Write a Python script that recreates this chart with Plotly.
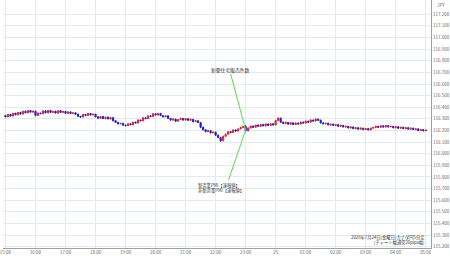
import plotly.graph_objects as go
import pandas as pd

# ---- data (CAD/JPY 5-minute candles, 2026-07-24 15:00 -> 07-25 05:00) ----
start_time = "2026-07-24 15:00"
first_open = 116.330
closes = [
    116.318, 116.338, 116.325, 116.348, 116.335, 116.355, 116.342, 116.366, 116.352, 116.372, 116.358, 116.366,  # 15h
    116.330, 116.350, 116.345, 116.368, 116.352, 116.372, 116.356, 116.365, 116.350, 116.370, 116.356, 116.364,  # 16h
    116.348, 116.360, 116.346, 116.352, 116.340, 116.322, 116.316, 116.338, 116.330, 116.346, 116.334, 116.340,  # 17h
    116.318, 116.306, 116.320, 116.302, 116.315, 116.300, 116.310, 116.285, 116.270, 116.258, 116.262, 116.246,  # 18h
    116.242, 116.258, 116.250, 116.272, 116.265, 116.290, 116.284, 116.310, 116.302, 116.326, 116.320, 116.344,  # 19h
    116.334, 116.346, 116.328, 116.318, 116.326, 116.304, 116.290, 116.298, 116.280, 116.294, 116.304, 116.290,  # 20h
    116.302, 116.288, 116.296, 116.276, 116.284, 116.268, 116.228, 116.206, 116.190, 116.198, 116.180, 116.186,  # 21h
    116.160, 116.140, 116.112, 116.150, 116.168, 116.190, 116.182, 116.205, 116.196, 116.214, 116.226, 116.236,  # 22h
    116.198, 116.222, 116.238, 116.228, 116.246, 116.236, 116.252, 116.240, 116.256, 116.244, 116.258, 116.248,  # 23h
    116.286, 116.306, 116.272, 116.260, 116.270, 116.254, 116.266, 116.252, 116.264, 116.256, 116.272, 116.264,  # 00h
    116.280, 116.272, 116.290, 116.282, 116.298, 116.288, 116.266, 116.258, 116.262, 116.248, 116.254, 116.244,  # 01h
    116.250, 116.236, 116.244, 116.230, 116.236, 116.222, 116.230, 116.216, 116.224, 116.212, 116.220, 116.208,  # 02h
    116.216, 116.206, 116.220, 116.226, 116.236, 116.228, 116.240, 116.230, 116.242, 116.232, 116.236, 116.224,  # 03h
    116.232, 116.220, 116.228, 116.216, 116.224, 116.212, 116.220, 116.208, 116.214, 116.200, 116.208, 116.198,  # 04h
    116.204,
]
# wick lengths above / below the candle body, in 0.001 yen
upper_wick = [
    5, 4, 6, 3, 5, 4, 6, 4, 5, 6, 3, 5,
    4, 6, 3, 5, 6, 4, 5, 3, 6, 4, 5, 4,
    5, 4, 6, 3, 4, 6, 4, 5, 3, 6, 4, 5,
    4, 5, 3, 6, 4, 5, 3, 6, 4, 5, 3, 4,
    5, 4, 6, 3, 5, 6, 4, 5, 3, 6, 5, 6,
    5, 4, 6, 3, 4, 5, 4, 6, 5, 3, 6, 4,
    5, 4, 6, 3, 4, 5, 6, 5, 4, 6, 3, 5,
    6, 4, 5, 7, 5, 4, 6, 3, 5, 4, 6, 4,
    9, 5, 4, 6, 3, 5, 4, 6, 3, 5, 4, 6,
    6, 8, 5, 4, 6, 3, 5, 4, 6, 3, 5, 4,
    5, 4, 6, 3, 5, 4, 6, 3, 4, 5, 3, 6,
    4, 5, 3, 4, 6, 3, 4, 5, 3, 4, 6, 3,
    4, 5, 3, 6, 4, 5, 3, 4, 6, 3, 5, 4,
    3, 5, 4, 3, 6, 4, 5, 3, 4, 6, 3, 5,
    4,
]
lower_wick = [
    5, 4, 6, 4, 3, 5, 4, 6, 3, 5, 4, 3,
    7, 5, 4, 6, 3, 4, 5, 3, 4, 6, 3, 5,
    4, 5, 3, 6, 4, 7, 5, 3, 6, 4, 5, 3,
    5, 4, 6, 3, 5, 4, 6, 7, 5, 6, 3, 5,
    6, 4, 3, 5, 4, 6, 3, 5, 4, 3, 5, 4,
    3, 5, 4, 6, 3, 5, 6, 4, 5, 3, 4, 6,
    4, 5, 3, 6, 4, 3, 7, 6, 5, 3, 6, 5,
    7, 6, 10, 5, 3, 5, 4, 3, 5, 4, 3, 5,
    12, 5, 4, 5, 3, 4, 5, 3, 6, 4, 3, 5,
    4, 5, 6, 4, 5, 3, 4, 6, 3, 5, 4, 3,
    5, 4, 3, 6, 4, 5, 6, 4, 5, 3, 6, 4,
    5, 4, 6, 3, 5, 4, 6, 3, 5, 4, 6, 5,
    3, 5, 4, 3, 6, 4, 5, 3, 4, 6, 3, 5,
    5, 4, 6, 3, 5, 4, 6, 3, 5, 6, 4, 5,
    4,
]

x_tick_times = ["2026-07-24 15:00", "2026-07-24 16:00", "2026-07-24 17:00", "2026-07-24 18:00",
                "2026-07-24 19:00", "2026-07-24 20:00", "2026-07-24 21:00", "2026-07-24 22:00",
                "2026-07-24 23:00", "2026-07-25 00:00", "2026-07-25 01:00", "2026-07-25 02:00",
                "2026-07-25 03:00", "2026-07-25 04:00", "2026-07-25 05:00"]
x_tick_text = ["15:00", "16:00", "17:00", "18:00", "19:00", "20:00", "21:00", "22:00",
               "23:00", "25", "01:00", "02:00", "03:00", "04:00", "05:00"]
y_tick_vals = [117.2, 117.1, 117.0, 116.9, 116.8, 116.7, 116.6, 116.5, 116.4, 116.3,
               116.2, 116.1, 116.0, 115.9, 115.8, 115.7, 115.6, 115.5, 115.4, 115.3, 115.2]

event_time = "2026-07-24 23:00"
event_price = 116.205
upper_label = "新築住宅販売件数"
upper_label_pos = ("2026-07-24 22:30", 116.717)
lower_labels = ["製造業PMI【速報値】", "非製造業PMI【速報値】"]
lower_label_pos = ("2026-07-24 22:06", 115.775)
caption = ["2026年7月24日(金曜日)カナダ円5分足", "(チャート幅通常20pips幅)"]

# ---- build ----
times = pd.date_range(start_time, periods=len(closes), freq="5min")
opens = [first_open] + closes[:-1]
highs = [max(o, c) + u / 1000 for o, c, u in zip(opens, closes, upper_wick)]
lows = [min(o, c) - d / 1000 for o, c, d in zip(opens, closes, lower_wick)]

RED = "#e0202a"
BLUE = "#1c20c4"
GREEN = "#5cdc4c"
GRID = "#e4ebf0"
AXIS = "#a0a0a0"
FONT = "Noto Sans CJK JP"

fig = go.Figure()
fig.add_trace(go.Candlestick(
    x=times, open=opens, high=highs, low=lows, close=closes,
    increasing=dict(line=dict(color=RED, width=0.9), fillcolor=RED),
    decreasing=dict(line=dict(color=BLUE, width=0.9), fillcolor=BLUE),
    whiskerwidth=0, showlegend=False, hoverinfo="skip",
))

x_start = pd.Timestamp("2026-07-24 15:00") - pd.Timedelta(minutes=4.95)
x_end = x_start + pd.Timedelta(hours=432 / 30.3)

fig.update_layout(
    width=450, height=258,
    margin=dict(l=0, r=18, t=0, b=10),
    paper_bgcolor="white", plot_bgcolor="white",
    font=dict(family=FONT, color="#555555"),
    xaxis=dict(
        range=[x_start, x_end], rangeslider=dict(visible=False),
        tickvals=pd.to_datetime(x_tick_times), ticktext=x_tick_text,
        tickfont=dict(size=4.5, color="#666666"), ticklabeloverflow="allow",
        showgrid=True, gridcolor=GRID, gridwidth=1,
        showline=True, linecolor=AXIS, linewidth=1,
        ticks="", zeroline=False,
    ),
    yaxis=dict(
        side="right", range=[115.189, 117.323],
        tickvals=y_tick_vals, ticktext=[f"{v:.3f}" for v in y_tick_vals],
        tickfont=dict(size=4.5, color="#666666"),
        showgrid=True, gridcolor=GRID, gridwidth=1,
        showline=True, linecolor=AXIS, linewidth=1,
        ticks="", zeroline=False,
    ),
)

# event leader lines
fig.add_shape(type="line", xref="x", yref="y",
              x0=pd.Timestamp(upper_label_pos[0]), y0=upper_label_pos[1] - 0.03,
              x1=pd.Timestamp(event_time), y1=event_price,
              line=dict(color=GREEN, width=1))
fig.add_shape(type="line", xref="x", yref="y",
              x0=pd.Timestamp(event_time), y0=event_price,
              x1=pd.Timestamp(lower_label_pos[0]) + pd.Timedelta(minutes=20), y1=lower_label_pos[1],
              line=dict(color=GREEN, width=1))

fig.add_annotation(x=pd.Timestamp(upper_label_pos[0]), y=upper_label_pos[1], text=upper_label,
                   showarrow=False, xanchor="center", yanchor="middle",
                   font=dict(size=4.8, color="#333333", family=FONT))
for k, t in enumerate(lower_labels):
    fig.add_annotation(x=pd.Timestamp(lower_label_pos[0]) - pd.Timedelta(minutes=46), y=lower_label_pos[1],
                       yshift=-5 * k, text=t, showarrow=False, xanchor="left", yanchor="top",
                       font=dict(size=4.3, color="#333333", family=FONT))

# caption bottom-right
for k, t in enumerate(caption):
    fig.add_annotation(xref="paper", yref="paper", x=0.99, y=(248 - 237) / 248,
                       yshift=-5 * k, text=t, showarrow=False, xanchor="right", yanchor="middle",
                       font=dict(size=4.3, color="#333333", family=FONT))

# currency label
fig.add_annotation(xref="paper", yref="paper", x=1.0, xshift=10, y=(248 - 5) / 248, text="JPY",
                   showarrow=False, xanchor="center", yanchor="middle",
                   font=dict(size=4.5, color="#666666", family=FONT))

# mask the right part of the clipped last time label
fig.add_shape(type="rect", xref="paper", yref="paper", x0=1.0005, x1=1.05, y0=-0.045, y1=-0.006,
              fillcolor="white", line=dict(width=0), layer="above")

fig.write_html("out.html")
